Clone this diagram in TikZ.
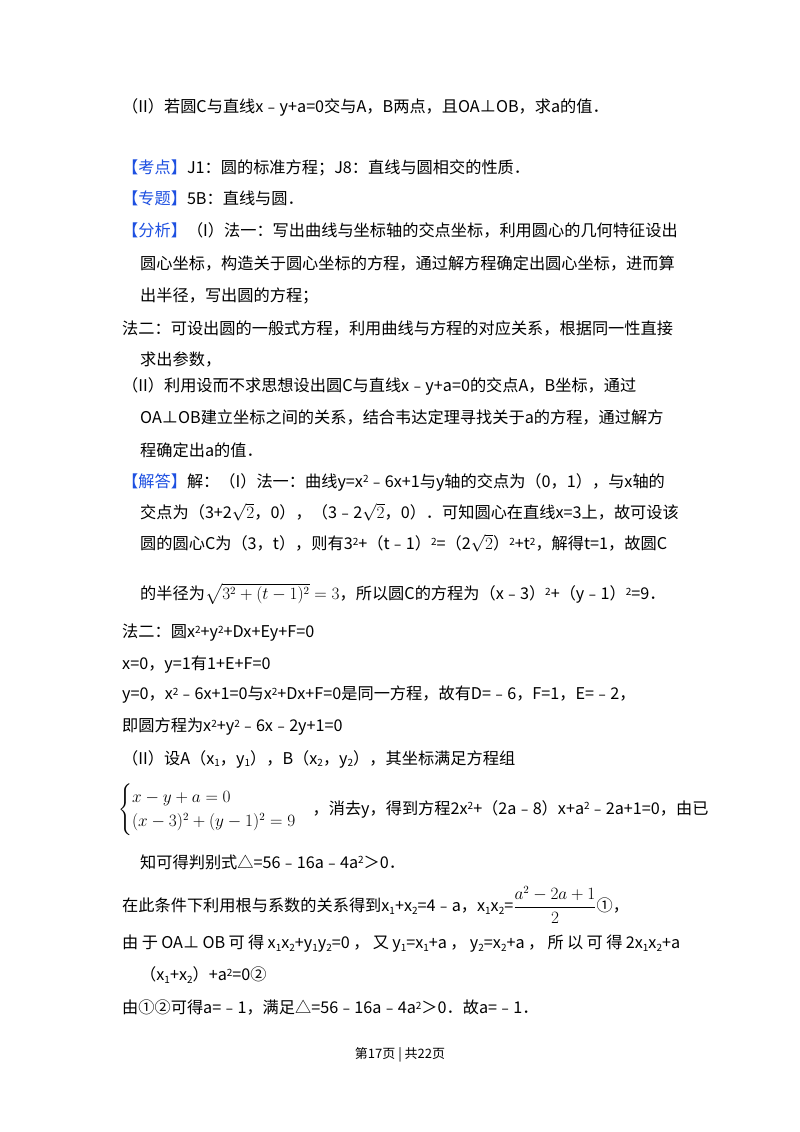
\documentclass[tikz,border=0pt]{standalone}
\usepackage{fontspec}
\usepackage{amsmath}
\newfontfamily\cjk{Noto Sans CJK SC}
\definecolor{kblue}{RGB}{30,80,225}
\newcommand{\sps}[1]{\raisebox{0.5ex}{\fontsize{10}{10}\selectfont #1}}
\newcommand{\sbs}[1]{\raisebox{-0.3ex}{\fontsize{10}{10}\selectfont #1}}
\newcommand{\tg}[1]{\textcolor{kblue}{#1}}
\begin{document}
\begin{tikzpicture}[x=1pt,y=-1pt,
  ln/.style={anchor=west,inner sep=0pt,font=\cjk\fontsize{16.2}{20}\selectfont}]
\useasboundingbox (0,0) rectangle (800,1132);
\fill[white] (0,0) rectangle (800,1132);
\node[ln] (l1) at (122,107) {（II）若圆C与直线x﹣y+a=0交与A，B两点，且OA⊥OB，求a的值．};
\node[ln] (l2) at (122,168) {\tg{【考点】}J1：圆的标准方程；J8：直线与圆相交的性质．};
\node[ln] (l3) at (122,198) {\tg{【专题】}5B：直线与圆．};
\node[ln] (l4) at (122,230) {\tg{【分析】}（I）法一：写出曲线与坐标轴的交点坐标，利用圆心的几何特征设出};
\node[ln] (l5) at (140,264) {圆心坐标，构造关于圆心坐标的方程，通过解方程确定出圆心坐标，进而算};
\node[ln] (l6) at (140,296) {出半径，写出圆的方程；};
\node[ln] (l7) at (122,328) {法二：可设出圆的一般式方程，利用曲线与方程的对应关系，根据同一性直接};
\node[ln] (l8) at (140,360) {求出参数，};
\node[ln] (l9) at (122,386) {（II）利用设而不求思想设出圆C与直线x﹣y+a=0的交点A，B坐标，通过};
\node[ln] (l10) at (140,418) {OA⊥OB建立坐标之间的关系，结合韦达定理寻找关于a的方程，通过解方};
\node[ln] (l11) at (140,450) {程确定出a的值．};
\node[ln] (l12) at (122,482) {\tg{【解答】}解：（I）法一：曲线y=x\sps{2}﹣6x+1与y轴的交点为（0，1），与x轴的};
\node[ln] (l13) at (140,512) {交点为（3+2$\sqrt{2}$，0），（3﹣2$\sqrt{2}$，0）．可知圆心在直线x=3上，故可设该};
\node[ln] (l14) at (140,543) {圆的圆心C为（3，t），则有3\sps{2}+（t﹣1）\sps{2}=（2$\sqrt{2}$）\sps{2}+t\sps{2}，解得t=1，故圆C};
\node[ln] (l15) at (140,594) {的半径为$\sqrt{3^2+(t-1)^2}=3$，所以圆C的方程为（x﹣3）\sps{2}+（y﹣1）\sps{2}=9．};
\node[ln] (l16) at (122,633) {法二：圆x\sps{2}+y\sps{2}+Dx+Ey+F=0};
\node[ln] (l17) at (122,665) {x=0，y=1有1+E+F=0};
\node[ln] (l18) at (122,695) {y=0，x\sps{2}﹣6x+1=0与x\sps{2}+Dx+F=0是同一方程，故有D=﹣6，F=1，E=﹣2，};
\node[ln] (l19) at (122,727) {即圆方程为x\sps{2}+y\sps{2}﹣6x﹣2y+1=0};
\node[ln] (l20) at (122,759) {（II）设A（x\sbs{1}，y\sbs{1}），B（x\sbs{2}，y\sbs{2}），其坐标满足方程组};
\node[ln] (l21) at (118,810) {$\begin{cases}x-y+a=0\\(x-3)^2+(y-1)^2=9\end{cases}$，消去y，得到方程2x\sps{2}+（2a﹣8）x+a\sps{2}﹣2a+1=0，由已};
\node[ln] (l22) at (140,862) {知可得判别式△=56﹣16a﹣4a\sps{2}＞0．};
\node[ln] (l23) at (122,905) {在此条件下利用根与系数的关系得到x\sbs{1}+x\sbs{2}=4﹣a，x\sbs{1}x\sbs{2}=$\dfrac{a^2-2a+1}{2}$①，};
\node[ln] (l24) at (122,944) {\hbox to 558pt{由\hfill 于\hfill OA⊥\hfill OB\hfill 可\hfill 得\hfill x\sbs{1}x\sbs{2}+y\sbs{1}y\sbs{2}=0\hfill ，\hfill 又\hfill y\sbs{1}=x\sbs{1}+a\hfill ，\hfill y\sbs{2}=x\sbs{2}+a\hfill ，\hfill 所\hfill 以\hfill 可\hfill 得\hfill 2x\sbs{1}x\sbs{2}+a}};
\node[ln] (l25) at (140,975) {（x\sbs{1}+x\sbs{2}）+a\sps{2}=0②};
\node[ln] (l26) at (122,1008) {由①②可得a=﹣1，满足△=56﹣16a﹣4a\sps{2}＞0．故a=﹣1．};
\node[inner sep=0pt,font=\cjk\fontsize{13}{16}\selectfont] (ft) at (400,1055) {第17页 | 共22页};
\end{tikzpicture}
\end{document}
